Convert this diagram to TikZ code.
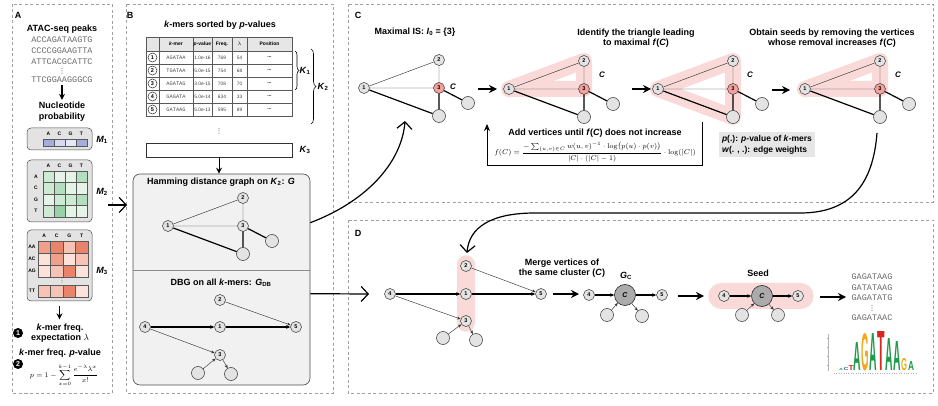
\documentclass[tikz,border=0pt]{standalone}
\usepackage[no-math]{fontspec}
\setmainfont{Liberation Sans}
\setmonofont{Liberation Mono}
\newfontfamily\symfont{DejaVu Sans}
\usepackage{amsmath}
\usepackage{graphicx}
\usetikzlibrary{arrows.meta,decorations.pathreplacing,calc}

\pgfdeclarelayer{bg}
\pgfsetlayers{bg,main}

\definecolor{panelgray}{HTML}{A0A0A0}
\definecolor{nodegray}{HTML}{E3E3E3}
\definecolor{nodered}{HTML}{F2A19C}
\definecolor{hlpink}{HTML}{FADAD8}
\definecolor{boxgray}{HTML}{F1F1F1}
\definecolor{notegray}{HTML}{E6E6E6}
\definecolor{bignode}{HTML}{ABABAB}
\definecolor{seqgray}{HTML}{6A6A6A}
\definecolor{b1}{HTML}{A7ADDB}
\definecolor{b2}{HTML}{D6DAF1}
\definecolor{b3}{HTML}{E6E8F7}
\definecolor{g1}{HTML}{E6F4E8}
\definecolor{g2}{HTML}{CDEAD3}
\definecolor{g3}{HTML}{B3DFBE}
\definecolor{g4}{HTML}{98D3A7}
\definecolor{r1}{HTML}{FBE3DC}
\definecolor{r2}{HTML}{F6C3B4}
\definecolor{r3}{HTML}{F0A08A}
\definecolor{r4}{HTML}{E9836A}
\definecolor{logoA}{HTML}{1E9A48}
\definecolor{logoG}{HTML}{F3A81E}
\definecolor{logoT}{HTML}{D8261F}
\definecolor{logoC}{HTML}{2C5FAF}

\tikzset{
  panel/.style={draw=panelgray, line width=0.7pt, dash pattern=on 3pt off 2.5pt},
  plabel/.style={font=\fontsize{9}{10}\selectfont\bfseries, inner sep=0pt},
  lbl/.style={font=\fontsize{9}{10.5}\selectfont\bfseries, inner sep=1pt, align=center},
  mlabel/.style={font=\fontsize{9}{10}\selectfont, inner sep=0pt},
  clabel/.style={font=\fontsize{8}{9}\selectfont\bfseries\itshape, inner sep=0pt},
  seq/.style={font=\fontsize{8.5}{9}\selectfont\ttfamily, text=seqgray, inner sep=0pt},
  dotsnode/.style={font=\fontsize{7}{7}\selectfont\symfont, text=black!75, inner sep=0pt},
  formula/.style={font=\fontsize{7}{8}\selectfont, inner sep=0pt},
  tinybold/.style={font=\fontsize{5}{6}\selectfont\bfseries, inner sep=0pt},
  tabtxt/.style={font=\fontsize{4.8}{5}\selectfont, text=black!75, inner sep=0pt},
  tabkm/.style={font=\fontsize{5.3}{6}\selectfont\ttfamily, text=black!70, inner sep=0pt},
  numcirc/.style={circle, draw=black!80, fill=white, line width=0.5pt, minimum size=9pt, inner sep=0pt, font=\fontsize{5.5}{6}\selectfont\bfseries},
  blackcirc/.style={circle, fill=black, text=white, minimum size=10pt, inner sep=0pt, font=\fontsize{7}{7}\selectfont\bfseries},
  vtx/.style={circle, draw=black!80, fill=nodegray, line width=0.5pt, minimum size=11pt, inner sep=0pt, font=\fontsize{5.5}{6}\selectfont\bfseries},
  redvtx/.style={vtx, fill=nodered},
  leaf/.style={circle, draw=black!80, fill=nodegray, line width=0.5pt, minimum size=13pt, inner sep=0pt},
  bigvtx/.style={circle, draw=black!85, fill=bignode, line width=0.6pt, minimum size=21pt, inner sep=0pt, font=\fontsize{7}{7}\selectfont\bfseries\itshape},
  thin edge/.style={line width=0.45pt, black!80},
  thick edge/.style={line width=1.2pt, black},
  dbg arrow/.style={-{Stealth[length=3.5pt,width=3pt]}, line width=0.45pt, black!80},
  dbg thick/.style={-{Stealth[length=4pt,width=3.5pt]}, line width=1.1pt},
  stage arrow/.style={-{Stealth[length=8pt,width=8pt]}, line width=1.3pt},
  big arrow/.style={-{Straight Barb[length=7pt,width=15pt]}, line width=1.2pt},
  down arrow/.style={-{Stealth[length=6pt,width=6pt]}, line width=1.2pt},
  loop arrow/.style={-{Stealth[length=7pt,width=6pt]}, line width=0.8pt},
  hl/.style={draw=hlpink, line width=16pt, line join=round, line cap=round},
  mbox/.style={draw=black!70, fill=nodegray, rounded corners=4pt, line width=0.5pt, inner sep=0pt},
  cellbox/.style={draw=black!65, line width=0.4pt},
  graphbox/.style={draw=black!70, fill=boxgray, rounded corners=7pt, line width=0.6pt, inner sep=0pt},
  notebox/.style={fill=notegray, font=\fontsize{8.5}{11}\selectfont\bfseries, align=left, inner sep=3pt},
}

\newcommand{\bisub}[2]{\textbf{\textit{#1}}\textsubscript{\textbf{#2}}}
% vertices 1, 2, 3 and two leaves of the Hamming graph
\newcommand{\hamgraph}[4]{%
  \node[vtx] (#1-1) at (#2,#3) {1};
  \node[vtx] (#1-2) at (#2+75,#3-28) {2};
  \node[#4] (#1-3) at (#2+75,#3) {3};
  \node[leaf] (#1-b) at (#2+75,#3+28) {};
  \node[leaf] (#1-r) at (#2+104,#3+15) {};
  \draw[thin edge] (#1-1) -- (#1-2) (#1-1) -- (#1-3) (#1-2) -- (#1-3);
  \draw[thick edge] (#1-1) -- (#1-b) (#1-3) -- (#1-b) (#1-3) -- (#1-r);
}
\newcommand{\logoletter}[7]{%
  \node[anchor=south, inner sep=0pt, text=#6] (#1) at (#2,#3) {\resizebox{#4pt}{#5pt}{\bfseries #7}};
}

\begin{document}
\begin{tikzpicture}[x=1pt, y=-1pt]
\useasboundingbox (0,0) rectangle (938,406);

% panel A
\draw[panel] (12,4) rectangle (112,393);
\node[plabel] (lab-a) at (18,15) {A};
\node[lbl] (atac) at (62,29) {ATAC-seq peaks};
\node[seq] (pk1) at (62,40) {ACCAGATAAGTG};
\node[seq] (pk2) at (62,51) {CCCCGGAAGTTA};
\node[seq] (pk3) at (62,62) {ATTCACGCATTC};
\node[dotsnode] (pkdots) at (62,71) {⋮};
\node[seq] (pk4) at (62,80) {TTCGGAAGGGCG};
\node[lbl] (nuc) at (62,111.5) {Nucleotide\\probability};
\draw[down arrow, shorten <=2pt, shorten >=1pt] (pk4) -- (nuc);

\node[mbox, minimum width=65pt, minimum height=22pt] (m1box) at (59.5,139) {};
\foreach \c [count=\j] in {A,C,G,T}
  \node[tinybold] (m1-h\j) at (37.5+11*\j,133.5) {\c};
\foreach \col [count=\j] in {b1,b2,b3,b1}
  \filldraw[cellbox, fill=\col] (32+11*\j,139) rectangle (43+11*\j,146.5);
\node[mlabel] (m1-lab) at (102,140) {\bisub{M}{1}};

\node[mbox, minimum width=65pt, minimum height=62pt] (m2box) at (59.5,191) {};
\foreach \c [count=\j] in {A,C,G,T}
  \node[tinybold] (m2-h\j) at (37.5+11*\j,166) {\c};
\foreach \r/\ca/\cb/\cc/\cd [count=\i] in {A/g2/g1/g1/g3, C/g2/g3/g1/g1, G/g1/g2/g2/g3, T/g2/g4/g1/g1}{
  \node[tinybold] (m2-r\i) at (36,165.25+11.5*\i) {\r};
  \foreach \col [count=\j] in {\ca,\cb,\cc,\cd}
    \filldraw[cellbox, fill=\col] (32+11*\j,159.5+11.5*\i) rectangle (43+11*\j,171+11.5*\i);
}
\node[mlabel] (m2-lab) at (102,192) {\bisub{M}{2}};

\node[mbox, minimum width=65pt, minimum height=71pt] (m3box) at (59.5,265.5) {};
\foreach \c [count=\j] in {A,C,G,T}
  \node[tinybold] (m3-h\j) at (31.75+12.5*\j,235.5) {\c};
\foreach \r/\yy/\ca/\cb/\cc/\cd [count=\i] in {AA/241/r3/r4/r2/r4, AC/253/r1/r3/r1/r2, AG/265/r1/r2/r4/r1, TT/285/r2/r2/r4/r1}{
  \node[tinybold] (m3-r\i) at (32,\yy+6) {\r};
  \foreach \col [count=\j] in {\ca,\cb,\cc,\cd}
    \filldraw[cellbox, fill=\col] (25.5+12.5*\j,\yy) rectangle (38+12.5*\j,\yy+12);
}
\node[dotsnode, font=\fontsize{5.5}{5.5}\selectfont\symfont] (m3dots) at (62,281) {⋮};
\node[mlabel] (m3-lab) at (102,271) {\bisub{M}{3}};

\node[blackcirc] (n1) at (18,333) {1};
\node[lbl] (kfreq) at (60,333) {\textit{k}-mer freq.\\expectation $\lambda$};
\draw[down arrow, shorten <=5pt, shorten >=3pt] (m3box) -- (m3box |- kfreq.north);
\node[lbl] (kpval) at (60,353) {\textit{k}-mer freq. \textit{p}-value};
\node[blackcirc] (n2) at (18,364) {2};
\node[formula] (pform) at (64,375) {$\displaystyle p = 1-\sum_{x=0}^{k-1}\frac{e^{-\lambda}\lambda^{x}}{x!}$};

% panel B
\draw[panel] (126,4) rectangle (333,393);
\node[plabel] (lab-b) at (130,15) {B};
\node[lbl] (sorted) at (220,25) {\textit{k}-mers sorted by \textit{p}-values};
\fill[notegray] (146,37) rectangle (292,51);
\draw[cellbox] (146,37) rectangle (292,116);
\foreach \yy in {51,64,77,90,103} \draw[cellbox] (146,\yy) -- (292,\yy);
\foreach \xx in {159,193,212,232,247} \draw[cellbox] (\xx,37) -- (\xx,116);
\node[tinybold] (hd-kmer) at (176,44) {\textit{k}-mer};
\node[tinybold] (hd-pval) at (202.5,44) {\textit{p}-value};
\node[tinybold] (hd-freq) at (222,44) {Freq.};
\node[tinybold] (hd-lam) at (239.5,44) {$\lambda$};
\node[tinybold] (hd-pos) at (269.5,44) {Position};
\foreach \i/\km/\pv/\fr/\la in {1/AGATAA/1.0e-16/769/54, 2/TGATAA/5.0e-15/754/68, 3/AGATAG/3.0e-15/708/70, 4/GAGATA/5.0e-14/634/33, 5/GATAAG/5.0e-13/595/89}{
  \node[numcirc] (id\i) at (152.5,44.5+13*\i) {\i};
  \node[tabkm] (km\i) at (176,44.5+13*\i) {\km};
  \node[tabtxt] (pv\i) at (202.5,44.5+13*\i) {\pv};
  \node[tabtxt] (fr\i) at (222,44.5+13*\i) {\fr};
  \node[tabtxt] (la\i) at (239.5,44.5+13*\i) {\la};
  \node[tinybold] (pos\i) at (269.5,44.5+13*\i) {...};
}
\draw[line width=0.6pt, decorate, decoration={brace, amplitude=4pt}] (295,51) -- (295,90);
\node[mlabel] (k1-lab) at (305,71) {\bisub{K}{1}};
\draw[line width=0.6pt, decorate, decoration={brace, amplitude=5pt}] (311,49) -- (311,124);
\node[mlabel] (k2-lab) at (323,87) {\bisub{K}{2}};
\node[dotsnode] (tdots) at (219,131) {⋮};
\node[draw=black!80, fill=white, line width=0.5pt, minimum width=146pt, minimum height=14pt, inner sep=0pt] (k3box) at (219,150) {};
\node[mlabel] (k3-lab) at (305,150) {\bisub{K}{3}};

\node[graphbox, minimum width=177pt, minimum height=211pt] (gbox) at (221.5,279.5) {};
\coordinate (divide) at (0,270);
\draw[black!45, line width=0.6pt] (gbox.west |- divide) -- (gbox.east |- divide);
\draw[down arrow, line width=1pt] (k3box.south) -- (k3box.south |- gbox.north);
\node[lbl] (hamtitle) at (221,182) {Hamming distance graph on \bisub{K}{2}: \textit{G}};
\hamgraph{h}{168}{226}{vtx}
\node[lbl] (dbgtitle) at (221,283) {DBG on all \textit{k}-mers: \bisub{G}{DB}};
\node[vtx] (b-2) at (220,300) {2};
\node[vtx] (b-4) at (145,327) {4};
\node[vtx] (b-1) at (220,327) {1};
\node[vtx] (b-5) at (296,327) {5};
\node[vtx] (b-3) at (220,355) {3};
\node[leaf] (b-l) at (198,373) {};
\node[leaf] (b-r) at (231,374) {};
\draw[dbg thick] (b-4) -- (b-1);
\draw[dbg thick] (b-1) -- (b-5);
\draw[dbg arrow] (b-2) -- (b-5);
\draw[dbg arrow] (b-4) -- (b-3);
\draw[dbg arrow] (b-l) -- (b-3);
\draw[dbg arrow] (b-3) -- (b-r);

\coordinate (a-out) at (108,205);
\coordinate (b-in) at (127,205);
\draw[big arrow] (a-out) -- (b-in);

% panel C
\draw[panel] (348,4) rectangle (933,202);
\node[plabel] (lab-c) at (358,15) {C};
\node[lbl] (mis) at (415,32) {Maximal IS: \textit{I}\textsubscript{0} = \{3\}};
\hamgraph{c1}{364}{88}{redvtx}
\node[clabel] (c1-lab) at (453,87) {C};
\node[lbl] (tri) at (636,38) {Identify the triangle leading\\to maximal \textit{f}(\textit{C})};
\hamgraph{c2}{509}{89}{redvtx}
\node[clabel] (c2-lab) at (602,75) {C};
\hamgraph{c3}{658}{89}{redvtx}
\node[clabel] (c3-lab) at (750,75) {C};
\node[lbl] (obt) at (832,38) {Obtain seeds by removing the vertices\\whose removal increases \textit{f}(\textit{C})};
\hamgraph{c4}{805}{89}{redvtx}
\node[clabel] (c4-lab) at (898,75) {C};
\begin{pgfonlayer}{bg}
  \draw[hl] (c2-1.center) -- (c2-2.center) -- (c2-3.center) -- cycle;
  \draw[hl] (c3-1.center) -- (c3-2.center) -- (c3-3.center) -- (c3-b.center) -- cycle;
  \draw[hl] (c4-1.center) -- (c4-2.center) -- (c4-3.center) -- cycle;
\end{pgfonlayer}
\coordinate (s1a) at (478,89); \coordinate (s1b) at (497,89);
\coordinate (s2a) at (632,89); \coordinate (s2b) at (651,89);
\coordinate (s3a) at (772,90); \coordinate (s3b) at (790,90);
\draw[stage arrow] (s1a) -- (s1b);
\draw[stage arrow] (s2a) -- (s2b);
\draw[stage arrow] (s3a) -- (s3b);

\node[lbl] (addv) at (595,133) {Add vertices until \textit{f}(\textit{C}) does not increase};
\node[formula] (fform) at (595,152) {$\displaystyle f(C)=\frac{-\sum_{(u,v)\in C} w(u,v)^{-1}\cdot\log\bigl(p(u)\cdot p(v)\bigr)}{|C|\cdot(|C|-1)}\cdot\log(|C|)$};
\coordinate (loop-a) at (702,122);
\coordinate (loop-b) at (487,124);
\draw[loop arrow] (loop-a) -- ++(0,43) -| (loop-b);
\node[notebox] (note) at (767,144.5) {\textit{p}(.): \textit{p}-value of \textit{k}-mers\\\textit{w}(. , .): edge weights};

\coordinate (c-in) at (405,121);
\draw[big arrow] ($(gbox.north east)+(0,49)$) .. controls (370,200) and (402,160) .. (c-in);

% panel D
\draw[panel] (348,220) rectangle (933,393);
\node[plabel] (lab-d) at (358,233) {D};
\coordinate (d-in) at (369,294);
\draw[big arrow] ($(gbox.north east)+(0,120)$) -- (d-in);
\coordinate (cd-start) at (877,133);
\coordinate (d-top) at (467,253);
\draw[big arrow] (cd-start) .. controls (873,185) and (850,213) .. (800,213) -- (535,213) .. controls (490,213) and (469,228) .. (d-top);

\node[vtx] (d-4) at (390,294) {4};
\node[vtx] (d-2) at (466,266) {2};
\node[vtx] (d-1) at (466,294) {1};
\node[vtx] (d-3) at (466,321) {3};
\node[vtx] (d-5) at (541,294) {5};
\node[leaf] (d-l) at (443,338) {};
\node[leaf] (d-r) at (476,340) {};
\draw[dbg thick] (d-4) -- (d-1);
\draw[dbg thick] (d-1) -- (d-5);
\draw[dbg arrow] (d-2) -- (d-5);
\draw[dbg arrow] (d-4) -- (d-3);
\draw[dbg arrow] (d-l) -- (d-3);
\draw[dbg arrow] (d-3) -- (d-r);
\node[lbl] (merge) at (562,268) {Merge vertices of\\the same cluster (\textit{C})};

\coordinate (s4a) at (553,294); \coordinate (s4b) at (579,294);
\draw[stage arrow] (s4a) -- (s4b);
\node[vtx] (gc-4) at (589,295) {4};
\node[bigvtx] (gc-c) at (625,295) {C};
\node[vtx] (gc-5) at (662,295) {5};
\node[leaf] (gc-l) at (607,315) {};
\node[leaf] (gc-r) at (642,316) {};
\draw[dbg thick] (gc-4) -- (gc-c);
\draw[dbg thick] (gc-c) -- (gc-5);
\draw[dbg arrow] (gc-l) -- (gc-c);
\draw[dbg arrow] (gc-c) -- (gc-r);
\node[mlabel] (gc-lab) at (626,276) {\bisub{G}{C}};

\coordinate (s5a) at (678,296); \coordinate (s5b) at (704,296);
\draw[stage arrow] (s5a) -- (s5b);
\node[lbl] (seedlab) at (758,273) {Seed};
\node[vtx] (s-4) at (724,296) {4};
\node[bigvtx] (s-c) at (762,296) {C};
\node[vtx] (s-5) at (798,296) {5};
\node[leaf] (s-l) at (742,315) {};
\node[leaf] (s-r) at (778,315) {};
\draw[dbg thick] (s-4) -- (s-c);
\draw[dbg thick] (s-c) -- (s-5);
\draw[dbg arrow] (s-l) -- (s-c);
\draw[dbg arrow] (s-c) -- (s-r);
\begin{pgfonlayer}{bg}
  \fill[hlpink, rounded corners=9pt] ($(d-2.north)+(-9,-5)$) rectangle ($(d-3.south)+(9,5)$);
  \fill[hlpink, rounded corners=13pt] ($(s-4.west)+(-10,-13)$) rectangle ($(s-5.east)+(10,13)$);
\end{pgfonlayer}

\coordinate (s6a) at (820,297); \coordinate (s6b) at (846,297);
\draw[stage arrow] (s6a) -- (s6b);
\node[seq] (sq1) at (872,277) {GAGATAAG};
\node[seq] (sq2) at (872,288) {GATATAAG};
\node[seq] (sq3) at (872,298) {GAGATATG};
\node[dotsnode] (sqdots) at (872,308) {⋮};
\node[seq] (sq4) at (872,318) {GAGATAAC};

% sequence logo
\draw[black!30, line width=0.3pt] (828,334) -- (828,371);
\foreach \yy in {338,347,356,365} \draw[black!30, line width=0.3pt] (826.5,\yy) -- (828,\yy);
\draw[black!30, line width=0.4pt, dash pattern=on 0.6pt off 1.8pt] (834,373) -- (916,373);
\foreach \nm/\xx/\yy/\ww/\hh/\cl/\ch in {
  la1/841/371/4/2/logoA/A, la2/846/371/5/3/logoC/C, la3/851/371/5/5/logoT/T,
  lb1/857/371/7.5/28/logoA/A, lb2/865/371/7.5/37/logoG/G, lb3/873/371/7.5/37/logoA/A,
  lb4/881/371/7.5/39/logoT/T, lb5/889/371/7.5/32/logoA/A, lb6/897/371/7.5/29/logoA/A,
  lc1/904/371/6/12/logoG/G, ld1/911/371/6/9/logoA/A}{
  \logoletter{\nm}{\xx}{\yy}{\ww}{\hh}{\cl}{\ch}
}
\end{tikzpicture}
\end{document}
